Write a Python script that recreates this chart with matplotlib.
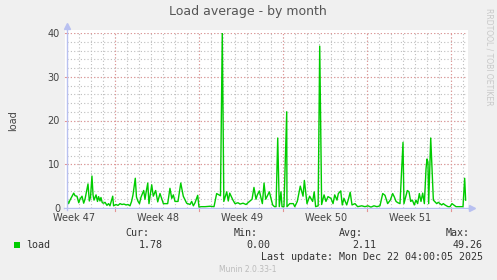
import numpy as np
import matplotlib
matplotlib.use("Agg")
import matplotlib.pyplot as plt
from matplotlib.lines import Line2D
from matplotlib.patches import Rectangle

# time in days since the left edge of the graph, load average
days = [0.00, 0.13, 0.25, 0.56, 0.67, 0.83, 0.98, 1.08, 1.25, 1.39, 1.50, 1.75,
        1.86, 1.96, 2.08, 2.17, 2.25, 2.42, 2.54, 2.63, 2.75, 2.83, 2.94, 3.06,
        3.17, 3.33, 3.46, 3.58, 3.81, 3.88, 4.08, 4.25, 4.42, 4.58, 4.75, 4.92,
        5.08, 5.25, 5.38, 5.50, 5.69, 5.79, 5.92, 6.04, 6.17, 6.39, 6.50, 6.58,
        6.73, 6.83, 7.06, 7.19, 7.39, 7.56, 7.75, 8.03, 8.39, 8.58, 8.73, 8.86,
        9.00, 9.25, 9.48, 9.69, 9.97, 10.25, 10.39, 10.53, 10.67, 10.89, 11.00,
        11.17, 11.50, 11.92, 12.25, 12.47, 12.67, 12.79, 12.94, 13.07, 13.31,
        13.44, 13.56, 13.83, 14.00, 14.25, 14.42, 14.67, 14.92, 15.08, 15.42,
        15.58, 15.75, 15.86, 16.03, 16.28, 16.42, 16.56, 16.86, 17.14, 17.29,
        17.42, 17.56, 17.69, 17.83, 17.92, 18.08, 18.31, 18.33, 18.56, 18.86,
        18.98, 19.19, 19.44, 19.67, 19.78, 20.00, 20.22, 20.47, 20.60, 20.72,
        20.93, 21.06, 21.22, 21.42, 21.58, 21.75, 22.00, 22.17, 22.31, 22.50,
        22.61, 22.81, 22.94, 23.08, 23.31, 23.47, 23.60, 23.75, 24.00, 24.22,
        24.56, 24.83, 25.08, 25.33, 25.58, 25.83, 26.08, 26.31, 26.50, 26.72,
        26.94, 27.14, 27.28, 27.42, 27.58, 27.75, 28.00, 28.08, 28.36, 28.50,
        28.64, 28.78, 28.94, 29.08, 29.22, 29.36, 29.50, 29.64, 29.78, 29.92,
        30.00, 30.08, 30.14, 30.31, 30.53, 30.81, 30.94, 31.22, 31.36, 31.50,
        31.75, 31.92, 32.08, 32.42, 32.67, 33.00, 33.14, 33.22]
load = [2.0, 1.0, 1.8, 3.4, 2.8, 2.7, 1.2, 2.0, 2.7, 1.1, 2.0, 5.5,
        1.6, 2.5, 7.3, 3.0, 1.8, 3.0, 1.5, 2.6, 1.6, 2.4, 1.2, 1.1,
        1.3, 0.6, 1.0, 0.5, 2.7, 0.5, 0.8, 0.6, 1.0, 0.8, 0.9, 0.7,
        0.8, 0.5, 1.5, 3.0, 6.8, 2.5, 1.5, 1.0, 2.5, 4.0, 2.0, 3.4,
        5.7, 1.0, 5.3, 2.7, 4.0, 1.4, 3.3, 1.0, 1.0, 4.5, 2.2, 3.0,
        1.5, 1.5, 5.7, 2.7, 1.1, 0.8, 1.5, 0.5, 1.2, 2.9, 0.2,
        0.3, 0.3, 0.4, 0.3, 3.3, 3.0, 2.8, 40.0, 1.5, 3.7,
        1.6, 3.4, 1.8, 1.0, 1.2, 0.9, 1.1, 0.8, 1.2, 2.0,
        4.7, 2.0, 3.0, 3.9, 1.0, 5.7, 2.0, 3.7, 0.7, 0.3,
        0.3, 16.0, 0.3, 3.7, 0.3, 0.3, 22.0, 0.3, 1.0, 1.0,
        0.3, 1.5, 5.0, 2.7, 6.3, 1.0, 2.7, 1.5, 3.7, 0.3,
        0.5, 37.0, 0.8, 3.0, 1.5, 2.6, 2.2, 1.0, 3.0, 1.8,
        3.3, 3.9, 0.7, 2.2, 0.7, 2.2, 3.6, 0.7, 1.0, 0.3,
        0.5, 0.3, 0.5, 0.2, 0.5, 0.3, 0.5, 3.3, 2.9, 1.0,
        1.8, 3.3, 2.5, 1.5, 1.2, 1.0, 15.0, 1.0, 4.0, 3.7,
        1.5, 1.8, 0.7, 1.8, 1.0, 3.3, 1.5, 3.4, 1.0, 9.0,
        11.2, 10.5, 1.0, 16.0, 1.8, 1.0, 1.3, 0.7, 1.0, 0.7,
        0.3, 0.3, 1.0, 0.3, 0.3, 0.3, 6.8, 1.8]

week_labels = ["Week 47", "Week 48", "Week 49", "Week 50", "Week 51"]
week_label_pos = [0.58, 7.58, 14.58, 21.58, 28.58]
week_lines = [4, 11, 18, 25, 32]

stat_names = ["Cur:", "Min:", "Avg:", "Max:"]
stat_values = ["1.78", "0.00", "2.11", "49.26"]

W, H = 497, 280
bg = "#F0F0F0"
fig = plt.figure(figsize=(W / 100, H / 100), dpi=100, facecolor=bg)

def fx(px):
    return px / W

def fy(py):
    return 1 - py / H

# white canvas behind the graph
fig.add_artist(Rectangle((fx(65), fy(210)), fx(468) - fx(65), fy(30) - fy(210),
                         transform=fig.transFigure, facecolor="white",
                         edgecolor="none", zorder=0))

ax = fig.add_axes([fx(67), fy(208), fx(467) - fx(67), fy(33) - fy(208)])
ax.set_facecolor("white")
ax.set_xlim(0, 400 / 12)
ax.set_ylim(0, 40)

# grid
grid_col = "#BEBEBE"
red_col = "#E49494"
for d in range(0, 34):
    ax.axvline(d, color=grid_col, lw=0.8, ls=(0, (1, 2)), zorder=1)
for v in range(2, 41, 2):
    ax.axhline(v, color=grid_col, lw=0.8, ls=(0, (1, 2)), zorder=1)
for d in week_lines:
    ax.axvline(d, color=red_col, lw=0.8, ls=(0, (1, 2)), zorder=2)
    ax.plot([d, d], [0, -0.7], color=red_col, lw=0.8, clip_on=False, zorder=2)
for v in [10, 20, 30, 40]:
    ax.axhline(v, color=red_col, lw=0.8, ls=(0, (1, 2)), zorder=2)
    ax.plot([0, -0.2], [v, v], color=red_col, lw=0.8, clip_on=False, zorder=2)

ax.plot(days, load, color="#00CC00", lw=1.0, zorder=5, clip_on=True)

for s in ax.spines.values():
    s.set_visible(False)

ax.set_yticks([0, 10, 20, 30, 40])
ax.set_yticklabels(["0", "10", "20", "30", "40"])
ax.set_xticks(week_label_pos)
ax.set_xticklabels(week_labels)
ax.tick_params(axis="both", length=0, labelsize=7, labelcolor="#444444")
ax.tick_params(axis="y", pad=5)
ax.tick_params(axis="x", pad=3.5)
ax.set_ylabel("load", fontsize=7, color="#444444", labelpad=21)

# axis lines with arrows
axis_col = "#B8C0F0"
fig.add_artist(Line2D([fx(67), fx(67)], [fy(210), fy(27)], color=axis_col, lw=1,
                      transform=fig.transFigure, zorder=6))
fig.add_artist(Line2D([fx(64), fx(471)], [fy(208), fy(208)], color=axis_col, lw=1,
                      transform=fig.transFigure, zorder=6))
fig.add_artist(Line2D([fx(67)], [fy(26)], marker="^", ms=5, color=axis_col,
                      transform=fig.transFigure, zorder=6))
fig.add_artist(Line2D([fx(472)], [fy(208)], marker=">", ms=5, color=axis_col,
                      transform=fig.transFigure, zorder=6))

# title and side text
fig.text(fx(248), fy(12), "Load average - by month", ha="center", va="center",
         fontsize=9, color="#555555")
fig.text(fx(489), fy(57), "RRDTOOL / TOBI OETIKER", ha="center", va="center",
         rotation=270, fontsize=5.5, color="#C8C8C8")

# legend
mono = "DejaVu Sans Mono"
fig.add_artist(Rectangle((fx(14), fy(248)), fx(6), fy(242) - fy(248),
                         transform=fig.transFigure, facecolor="#00CC00",
                         edgecolor="none"))
fig.text(fx(26), fy(245), "load", ha="left", va="center", fontsize=7.2,
         family=mono, color="#333333")
name_right = [149, 258, 363, 470]
val_right = [163, 270, 376, 483]
for name, val, nr, vr in zip(stat_names, stat_values, name_right, val_right):
    fig.text(fx(nr), fy(233), name, ha="right", va="center", fontsize=7.2,
             family=mono, color="#333333")
    fig.text(fx(vr), fy(245), val, ha="right", va="center", fontsize=7.2,
             family=mono, color="#333333")
fig.text(fx(483), fy(257), "Last update: Mon Dec 22 04:00:05 2025", ha="right",
         va="center", fontsize=7.2, family=mono, color="#333333")
fig.text(fx(248), fy(269), "Munin 2.0.33-1", ha="center", va="center",
         fontsize=5.5, color="#BBBBBB")

fig.savefig("out.png", dpi=100, facecolor=bg)
